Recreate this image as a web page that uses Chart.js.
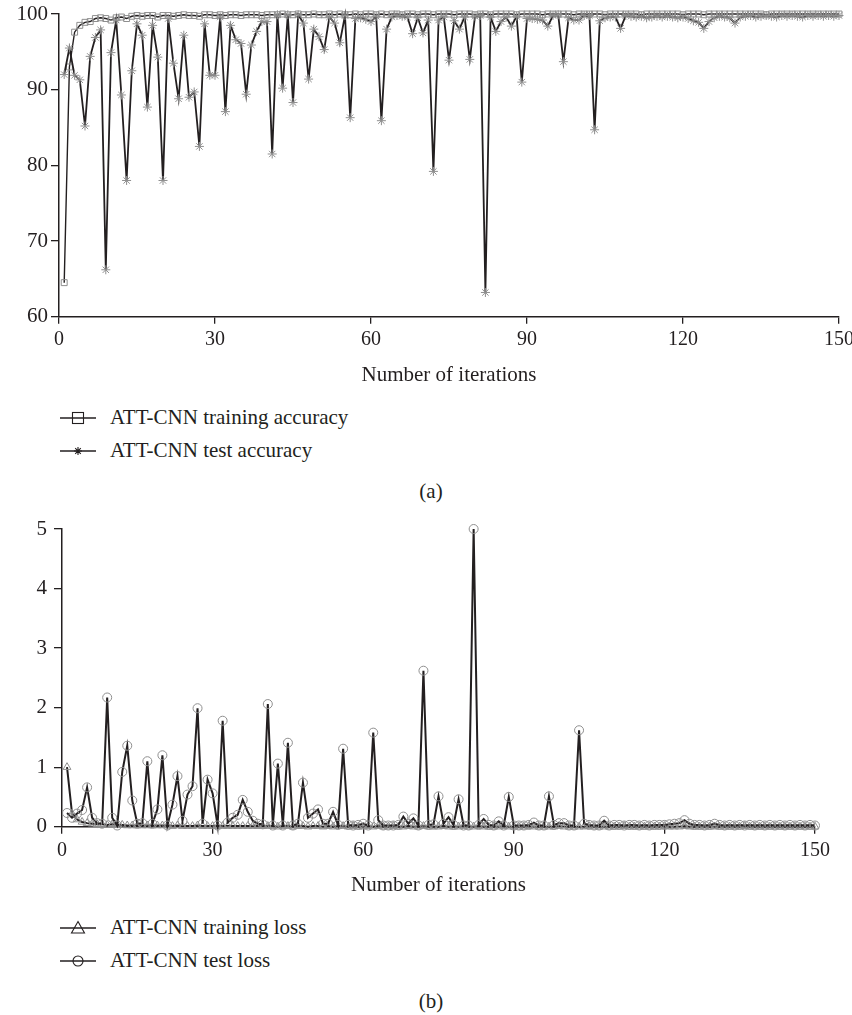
<!DOCTYPE html>
<html>
<head>
<meta charset="utf-8">
<script src="https://cdn.jsdelivr.net/npm/chart.js@4.4.1/dist/chart.umd.min.js"></script>
<style>
html, body { margin: 0; padding: 0; background: #fff; }
#page { position: relative; width: 852px; height: 1015px; overflow: hidden; font-family: 'Liberation Serif', 'DejaVu Serif', serif; color: #231f20; }
.box { position: absolute; left: 0; width: 852px; }
#boxA { top: 0; height: 400px; }
#boxB { top: 480px; height: 425px; }
.row { position: absolute; left: 60px; height: 34px; display: flex; align-items: center; white-space: nowrap; font-size: 21px; }
.row svg { display: block; margin-right: 14px; }
.cap { position: absolute; width: 60px; margin-left: -30px; text-align: center; font-size: 21px; line-height: 24px; }
</style>
</head>
<body>
<div id="page">
	<div class="box" id="boxA"><canvas id="accChart" width="852" height="400"></canvas></div>
	<div id="legendA"></div>
	<div class="cap" style="left:431px; top:479px;">(a)</div>
	<div class="box" id="boxB"><canvas id="lossChart" width="852" height="425"></canvas></div>
	<div id="legendB"></div>
	<div class="cap" style="left:431px; top:989px;">(b)</div>
</div>
<script>
// iteration numbers (x) and values
var iterations = Array.from({length: 150}, function(_, i){ return i + 1; });

var trainAcc = [
	64.5, 93.0, 97.6, 98.5, 98.9, 99.0, 99.4, 99.5, 99.4, 99.2,
	99.5, 99.6, 99.4, 99.7, 99.8, 99.7, 99.8, 99.8, 99.6, 99.8,
	99.8, 99.7, 99.8, 99.9, 99.8, 99.8, 99.7, 99.9, 99.9, 99.8,
	99.9, 99.8, 99.9, 99.9, 99.8, 99.9, 99.9, 99.9, 99.8, 99.9,
	99.9, 99.9, 100.0, 99.9, 99.9, 100.0, 99.9, 99.9, 100.0, 99.9,
	99.9, 100.0, 99.9, 100.0, 99.9, 99.9, 100.0, 99.9, 100.0, 100.0,
	99.9, 100.0, 99.9, 100.0, 100.0, 99.9, 100.0, 100.0, 99.9, 100.0,
	100.0, 99.9, 100.0, 100.0, 100.0, 99.9, 100.0, 100.0, 100.0, 99.9,
	100.0, 100.0, 99.9, 100.0, 100.0, 100.0, 100.0, 99.9, 100.0, 100.0,
	100.0, 100.0, 99.9, 100.0, 100.0, 100.0, 100.0, 100.0, 99.9, 100.0,
	100.0, 100.0, 100.0, 100.0, 99.9, 100.0, 100.0, 100.0, 100.0, 100.0,
	100.0, 99.9, 100.0, 100.0, 100.0, 100.0, 100.0, 100.0, 100.0, 99.9,
	100.0, 100.0, 100.0, 99.9, 100.0, 100.0, 100.0, 100.0, 100.0, 100.0,
	100.0, 100.0, 100.0, 100.0, 100.0, 99.9, 100.0, 100.0, 100.0, 100.0,
	100.0, 100.0, 100.0, 100.0, 100.0, 100.0, 100.0, 100.0, 100.0, 100.0
];

var testAcc = [
	92.0, 95.5, 91.9, 91.3, 85.2, 94.4, 96.9, 97.9, 66.2, 94.9,
	99.2, 89.3, 78.0, 92.5, 98.7, 97.2, 87.7, 98.5, 94.3, 78.0,
	99.4, 93.5, 88.8, 97.2, 89.0, 89.7, 82.5, 98.7, 91.9, 91.9,
	99.6, 87.1, 98.5, 96.6, 96.1, 89.4, 95.9, 97.7, 99.0, 99.0,
	81.5, 99.9, 90.2, 99.9, 88.3, 99.9, 98.8, 91.4, 98.0, 97.0,
	95.3, 99.6, 98.8, 96.2, 99.8, 86.3, 99.4, 99.5, 99.3, 99.0,
	99.7, 85.9, 98.0, 99.6, 99.8, 99.7, 99.6, 97.4, 99.5, 97.5,
	99.2, 79.2, 99.2, 99.6, 93.9, 99.1, 98.0, 99.6, 94.0, 99.7,
	99.8, 63.2, 99.6, 97.7, 99.0, 99.6, 98.4, 99.7, 91.0, 99.4,
	99.4, 99.3, 99.2, 98.4, 99.8, 99.9, 93.7, 99.5, 99.2, 99.2,
	99.8, 99.8, 84.7, 99.1, 99.5, 99.6, 99.6, 98.1, 99.8, 99.7,
	99.6, 99.7, 99.5, 99.6, 99.7, 99.6, 99.7, 99.6, 99.5, 99.6,
	99.4, 99.1, 98.9, 98.1, 99.0, 99.5, 99.7, 99.6, 99.5, 98.8,
	99.6, 99.7, 99.8, 99.6, 99.7, 99.8, 99.7, 99.6, 99.8, 99.7,
	99.8, 99.7, 99.6, 99.8, 99.7, 99.8, 99.7, 99.8, 99.7, 99.8
];

var trainLoss = [
	1.00, 0.22, 0.12, 0.08, 0.06, 0.05, 0.04, 0.04, 0.03, 0.04,
	0.03, 0.03, 0.02, 0.02, 0.02, 0.02, 0.02, 0.02, 0.02, 0.02,
	0.02, 0.01, 0.02, 0.01, 0.01, 0.01, 0.02, 0.01, 0.01, 0.01,
	0.01, 0.01, 0.01, 0.01, 0.01, 0.01, 0.01, 0.01, 0.01, 0.01,
	0.01, 0.01, 0.00, 0.01, 0.01, 0.00, 0.01, 0.01, 0.00, 0.01,
	0.01, 0.00, 0.01, 0.00, 0.01, 0.01, 0.00, 0.01, 0.00, 0.00,
	0.01, 0.00, 0.01, 0.00, 0.00, 0.01, 0.00, 0.00, 0.01, 0.00,
	0.00, 0.01, 0.00, 0.00, 0.00, 0.01, 0.00, 0.00, 0.00, 0.01,
	0.00, 0.00, 0.01, 0.00, 0.00, 0.00, 0.00, 0.01, 0.00, 0.00,
	0.00, 0.00, 0.01, 0.00, 0.00, 0.00, 0.00, 0.00, 0.01, 0.00,
	0.00, 0.00, 0.00, 0.00, 0.01, 0.00, 0.00, 0.00, 0.00, 0.00,
	0.00, 0.01, 0.00, 0.00, 0.00, 0.00, 0.00, 0.00, 0.00, 0.01,
	0.00, 0.00, 0.00, 0.01, 0.00, 0.00, 0.00, 0.00, 0.00, 0.00,
	0.00, 0.00, 0.00, 0.00, 0.00, 0.01, 0.00, 0.00, 0.00, 0.00,
	0.00, 0.00, 0.00, 0.00, 0.00, 0.00, 0.00, 0.00, 0.00, 0.00
];

var testLoss = [
	0.23, 0.15, 0.22, 0.28, 0.66, 0.15, 0.06, 0.05, 2.17, 0.15,
	0.02, 0.92, 1.36, 0.44, 0.05, 0.06, 1.10, 0.05, 0.29, 1.20,
	0.02, 0.37, 0.85, 0.10, 0.54, 0.68, 1.99, 0.05, 0.79, 0.56,
	0.02, 1.78, 0.07, 0.15, 0.20, 0.45, 0.25, 0.10, 0.05, 0.04,
	2.06, 0.02, 1.06, 0.02, 1.41, 0.02, 0.05, 0.74, 0.15, 0.22,
	0.29, 0.05, 0.05, 0.25, 0.03, 1.31, 0.03, 0.02, 0.03, 0.05,
	0.02, 1.58, 0.11, 0.02, 0.02, 0.02, 0.03, 0.17, 0.05, 0.14,
	0.02, 2.62, 0.03, 0.04, 0.51, 0.05, 0.16, 0.03, 0.46, 0.02,
	0.02, 5.00, 0.03, 0.13, 0.03, 0.02, 0.09, 0.02, 0.50, 0.02,
	0.02, 0.02, 0.03, 0.07, 0.02, 0.02, 0.51, 0.03, 0.06, 0.06,
	0.02, 0.02, 1.62, 0.05, 0.03, 0.02, 0.02, 0.10, 0.02, 0.03,
	0.03, 0.02, 0.03, 0.03, 0.02, 0.03, 0.02, 0.03, 0.03, 0.03,
	0.04, 0.05, 0.06, 0.11, 0.05, 0.03, 0.03, 0.02, 0.03, 0.05,
	0.03, 0.02, 0.03, 0.02, 0.03, 0.02, 0.03, 0.02, 0.03, 0.02,
	0.03, 0.02, 0.03, 0.02, 0.03, 0.02, 0.03, 0.02, 0.03, 0.02
];

var xTicks = [0, 30, 60, 90, 120, 150];
var accTicks = [60, 70, 80, 90, 100];
var lossTicks = [0, 1, 2, 3, 4, 5];

var INK = "#231f20";
var MARK = "#8f8f8f";

Chart.defaults.font.family = "'Liberation Serif', 'DejaVu Serif', serif";
Chart.defaults.font.size = 21;
Chart.defaults.color = INK;

function toPoints(values){
	return values.map(function(v, i){ return {x: iterations[i], y: v}; });
}

function lineSet(label, values, style, lineWidth){
	return {
		label: label,
		data: toPoints(values),
		borderColor: INK,
		borderWidth: lineWidth,
		tension: 0,
		pointStyle: style,
		pointRadius: style == "rect" ? 4.2 : 4.5,
		pointBorderColor: MARK,
		pointBackgroundColor: "rgba(255,255,255,0)",
		pointBorderWidth: 1,
		clip: false
	};
}

function xAxis(height, tickPad, titlePad){
	return {
		type: "linear", min: 0, max: 150,
		afterBuildTicks: function(s){ s.ticks = xTicks.map(function(v){ return {value: v}; }); },
		afterFit: function(s){ s.height = height; s.paddingLeft = 0; s.paddingRight = 0; },
		grid: {display: true, drawOnChartArea: false, drawTicks: true, tickLength: 7, color: INK, lineWidth: 1.3},
		border: {display: true, color: INK, width: 1.5},
		ticks: {padding: tickPad, maxRotation: 0, autoSkip: false, font: {size: 20}},
		title: {display: true, text: "Number of iterations", padding: {top: 0, bottom: titlePad}}
	};
}

function yAxis(min, max, tickList, width, tickPad){
	return {
		type: "linear", min: min, max: max,
		afterBuildTicks: function(s){ s.ticks = tickList.map(function(v){ return {value: v}; }); },
		afterFit: function(s){ s.width = width; s.paddingTop = 0; s.paddingBottom = 0; },
		grid: {display: true, drawOnChartArea: false, drawTicks: true, tickLength: 8, color: INK, lineWidth: 1.3},
		border: {display: true, color: INK, width: 1.5},
		ticks: {padding: tickPad}
	};
}

function baseOptions(pad, x, y){
	return {
		responsive: false,
		animation: false,
		layout: {padding: pad},
		plugins: {legend: {display: false}, tooltip: {enabled: false}},
		scales: {x: x, y: y}
	};
}

var accChart = new Chart(document.getElementById("accChart"), {
	type: "line",
	data: {datasets: [
		lineSet("ATT-CNN test accuracy", testAcc, "star", 1.8),
		lineSet("ATT-CNN training accuracy", trainAcc, "rect", 1.4)
	]},
	options: baseOptions({left: 0, right: 13, top: 14, bottom: 0}, xAxis(83.3, 4, 12.4), yAxis(60, 100, accTicks, 59, 3))
});

var lossChart = new Chart(document.getElementById("lossChart"), {
	type: "line",
	data: {datasets: [
		lineSet("ATT-CNN test loss", testLoss, "circle", 2),
		lineSet("ATT-CNN training loss", trainLoss, "triangle", 2)
	]},
	options: baseOptions({left: 0, right: 37, top: 49, bottom: 0}, xAxis(78.3, 5, 7.4), yAxis(0, 5, lossTicks, 62, 7))
});

// legend symbol: short line with the hollow marker on it
function symbolSvg(style){
	var s = '<svg width="36" height="20" viewBox="0 0 36 20"><line x1="0" y1="10" x2="36" y2="10" stroke="' + INK + '" stroke-width="1.5"/>';
	var st = ' fill="none" stroke="' + INK + '" stroke-width="1.1"';
	if(style == "rect") s += '<rect x="12.5" y="4.5" width="11" height="11"' + st + '/>';
	else if(style == "circle") s += '<circle cx="18" cy="10" r="5"' + st + '/>';
	else if(style == "triangle") s += '<polygon points="18,3.5 24.5,15 11.5,15"' + st + '/>';
	else if(style == "star") s += '<path d="M18 6V14M14 10H22M15.2 7.2L20.8 12.8M20.8 7.2L15.2 12.8"' + st + '/>';
	return s + '</svg>';
}

function buildLegend(chart, targetId, rowCenters){
	var sets = chart.data.datasets.slice().reverse();
	var html = "";
	sets.forEach(function(ds, idx){
		html += '<div class="row" style="top:' + (rowCenters[idx] - 17) + 'px">' + symbolSvg(ds.pointStyle) + '<span>' + ds.label + '</span></div>';
	});
	document.getElementById(targetId).innerHTML = html;
}

buildLegend(accChart, "legendA", [417.5, 450.5]);
buildLegend(lossChart, "legendB", [927.5, 960.5]);
</script>
</body>
</html>
